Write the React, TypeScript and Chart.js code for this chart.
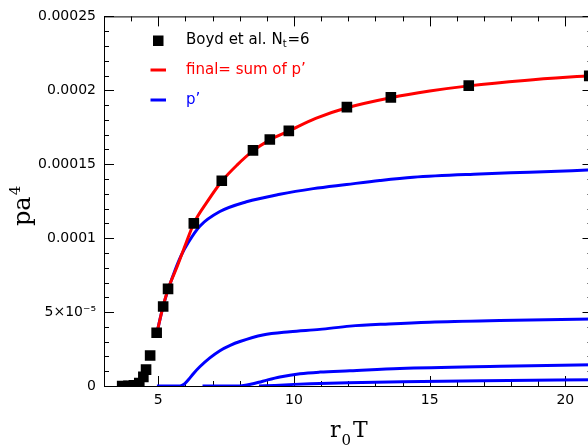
import React, { useEffect, useRef } from 'react';
import { Chart, registerables } from 'chart.js';

Chart.register(...registerables);

// Boyd et al. lattice data (black squares)
const boydX = [3.67, 3.9, 4.1, 4.3, 4.45, 4.55, 4.7, 4.94, 5.18, 5.36, 6.31, 7.34, 8.49, 9.11, 9.81, 11.95, 13.57, 16.44, 20.88];
const boydY = [0, 1e-7, 5e-7, 2e-6, 6.2e-6, 1.11e-5, 2.06e-5, 3.6e-5, 5.38e-5, 6.57e-5, 1.1e-4, 1.388e-4, 1.594e-4, 1.667e-4, 1.726e-4, 1.886e-4, 1.952e-4, 2.032e-4, 2.098e-4];

// final = sum of p' (red)
const finalX = [4.95, 5.18, 5.36, 5.7, 6.0, 6.31, 6.8, 7.34, 7.9, 8.49, 9.11, 9.81, 10.8, 11.95, 13.57, 15.0, 16.44, 18.5, 21.0];
const finalY = [3.6e-5, 5.4e-5, 6.55e-5, 8.1e-5, 9.55e-5, 1.1e-4, 1.245e-4, 1.385e-4, 1.494e-4, 1.59e-4, 1.665e-4, 1.725e-4, 1.81e-4, 1.882e-4, 1.95e-4, 1.995e-4, 2.03e-4, 2.067e-4, 2.1e-4];

// p' contributions (blue)
const pAX = [4.95, 5.18, 5.36, 5.6, 5.85, 6.1, 6.53, 7.27, 8.25, 9.48, 10.71, 11.94, 13.16, 14.39, 16.84, 18.68, 21.0];
const pAY = [3.6e-5, 5.4e-5, 6.5e-5, 7.75e-5, 8.85e-5, 9.69e-5, 1.081e-4, 1.18e-4, 1.246e-4, 1.297e-4, 1.335e-4, 1.363e-4, 1.39e-4, 1.412e-4, 1.434e-4, 1.446e-4, 1.462e-4];

const pBX = [4.95, 5.8, 5.95, 6.1, 6.3, 6.53, 6.9, 7.27, 7.65, 8.01, 8.85, 9.85, 10.95, 12.06, 13.5, 15.0, 17.58, 21.0];
const pBY = [0, 0, 1.2e-6, 4e-6, 8.5e-6, 1.3e-5, 1.9e-5, 2.39e-5, 2.75e-5, 3.01e-5, 3.45e-5, 3.67e-5, 3.83e-5, 4.05e-5, 4.2e-5, 4.32e-5, 4.43e-5, 4.53e-5];

const pCX = [6.63, 7.9, 8.15, 8.4, 8.7, 9.0, 9.48, 10.22, 10.95, 12.06, 13.9, 17.6, 21.0];
const pCY = [0, 0, 4e-7, 1.2e-6, 2.5e-6, 4.0e-6, 6.1e-6, 8.3e-6, 9.4e-6, 1.03e-5, 1.18e-5, 1.33e-5, 1.44e-5];

const pDX = [8.71, 9.3, 10.0, 10.6, 12.0, 14.0, 17.0, 21.0];
const pDY = [0, 4e-7, 1.1e-6, 1.5e-6, 2.2e-6, 2.9e-6, 3.6e-6, 4.3e-6];

// axes
const xMajorTicks = [5, 10, 15, 20];
const xTickLabels = ['5', '10', '15', '20'];
const xMinorTicks = [4, 6, 7, 8, 9, 11, 12, 13, 14, 16, 17, 18, 19];
const yMajorTicks = [0, 5e-5, 1e-4, 1.5e-4, 2e-4, 2.5e-4];
const yTickLabels = ['0', '5\u00d710\u207b\u2075', '0.0001', '0.00015', '0.0002', '0.00025'];
const yMinorTicks = [1, 2, 3, 4, 6, 7, 8, 9, 11, 12, 13, 14, 16, 17, 18, 19, 21, 22, 23, 24].map((k) => k * 1e-5);

const legendLabels = ['Boyd et al. N', 't', '=6', 'final= sum of p\u2019', 'p\u2019'];

export default function App() {
  const ref = useRef<HTMLCanvasElement>(null);

  useEffect(() => {
    const canvas = ref.current!;
    const pts = (xs: number[], ys: number[]) => xs.map((x, i) => ({ x, y: ys[i] }));

    const framePlugin = {
      id: 'frame',
      beforeDatasetsDraw(chart: any) {
        const { ctx, chartArea: a, scales } = chart;
        const sx = scales.x;
        const sy = scales.y;
        ctx.save();
        ctx.strokeStyle = '#000';
        ctx.lineWidth = 1;
        ctx.strokeRect(a.left + 0.5, a.top + 0.5, a.right - a.left, a.bottom - a.top);
        const line = (x1: number, y1: number, x2: number, y2: number) => {
          ctx.beginPath();
          ctx.moveTo(x1, y1);
          ctx.lineTo(x2, y2);
          ctx.stroke();
        };
        const xt = (v: number, len: number) => {
          const px = Math.round(sx.getPixelForValue(v)) + 0.5;
          line(px, a.bottom, px, a.bottom - len);
          line(px, a.top, px, a.top + len);
        };
        const yt = (v: number, len: number) => {
          const py = Math.round(sy.getPixelForValue(v)) + 0.5;
          line(a.left, py, a.left + len, py);
          line(a.right, py, a.right - len, py);
        };
        xMajorTicks.forEach((v) => xt(v, 10));
        xMinorTicks.forEach((v) => xt(v, 5));
        yMajorTicks.forEach((v) => yt(v, 10));
        yMinorTicks.forEach((v) => yt(v, 5));
        ctx.restore();
      },
      afterDraw(chart: any) {
        const { ctx } = chart;
        ctx.save();
        // legend
        ctx.fillStyle = '#000';
        ctx.fillRect(153, 35.5, 10.5, 10.5);
        ctx.font = '15px "DejaVu Sans"';
        ctx.textBaseline = 'alphabetic';
        ctx.textAlign = 'left';
        let x = 186;
        ctx.fillText(legendLabels[0], x, 44);
        x += ctx.measureText(legendLabels[0]).width;
        ctx.font = '10px "DejaVu Sans"';
        ctx.fillText(legendLabels[1], x, 47);
        x += ctx.measureText(legendLabels[1]).width + 1;
        ctx.font = '15px "DejaVu Sans"';
        ctx.fillText(legendLabels[2], x, 44);

        ctx.lineWidth = 3;
        ctx.strokeStyle = '#ff0000';
        ctx.beginPath();
        ctx.moveTo(150.5, 70);
        ctx.lineTo(166, 70);
        ctx.stroke();
        ctx.fillStyle = '#ff0000';
        ctx.fillText(legendLabels[3], 186, 74);

        ctx.strokeStyle = '#0000ff';
        ctx.beginPath();
        ctx.moveTo(150.5, 100);
        ctx.lineTo(166, 100);
        ctx.stroke();
        ctx.fillStyle = '#0000ff';
        ctx.fillText(legendLabels[4], 186, 104);

        // axis titles
        ctx.fillStyle = '#000';
        ctx.font = '22px "DejaVu Serif"';
        ctx.fillText('r', 330, 437);
        ctx.font = '15px "DejaVu Serif"';
        ctx.fillText('0', 341.5, 445);
        ctx.font = '22px "DejaVu Serif"';
        ctx.fillText('T', 353, 437);

        ctx.save();
        ctx.translate(30, 226);
        ctx.rotate(-Math.PI / 2);
        ctx.font = '24px "DejaVu Serif"';
        ctx.fillText('pa', 0, 0);
        const w = ctx.measureText('pa').width;
        ctx.font = '15px "DejaVu Serif"';
        ctx.fillText('4', w + 1, -10);
        ctx.restore();

        ctx.restore();
      },
    };

    const chart = new Chart(canvas, {
      type: 'scatter',
      data: {
        datasets: [
          {
            label: 'Boyd',
            data: pts(boydX, boydY),
            pointStyle: 'rect',
            pointRadius: 7.5,
            backgroundColor: '#000',
            borderWidth: 0,
            showLine: false,
            order: 0,
          },
          {
            label: 'final',
            data: pts(finalX, finalY),
            showLine: true,
            borderColor: '#ff0000',
            borderWidth: 3,
            pointRadius: 0,
            cubicInterpolationMode: 'monotone',
            order: 1,
          },
          ...[
            [pAX, pAY],
            [pBX, pBY],
            [pCX, pCY],
            [pDX, pDY],
          ].map(([xs, ys], i) => ({
            label: 'p' + i,
            data: pts(xs, ys),
            showLine: true,
            borderColor: '#0000ff',
            borderWidth: 3,
            pointRadius: 0,
            cubicInterpolationMode: 'monotone' as const,
            order: 2,
          })),
        ],
      },
      options: {
        animation: false,
        responsive: false,
        layout: { padding: { top: 10, right: 7, left: 0, bottom: 0 } },
        plugins: { legend: { display: false }, tooltip: { enabled: false } },
        scales: {
          x: {
            type: 'linear',
            min: 3,
            max: 21,
            grid: { display: false, drawTicks: false },
            border: { display: false },
            afterBuildTicks: (scale: any) => {
              scale.ticks = xMajorTicks.map((v) => ({ value: v }));
            },
            afterFit: (scale: any) => {
              scale.height = 61;
            },
            ticks: {
              autoSkip: false,
              maxRotation: 0,
              padding: 6,
              color: '#000',
              font: { family: 'DejaVu Sans', size: 14 },
              callback: (_v: any, i: number) => xTickLabels[i],
            },
          },
          y: {
            type: 'linear',
            min: 0,
            max: 2.5e-4,
            grid: { display: false, drawTicks: false },
            border: { display: false },
            afterBuildTicks: (scale: any) => {
              scale.ticks = yMajorTicks.map((v) => ({ value: v }));
            },
            afterFit: (scale: any) => {
              scale.width = 104;
            },
            ticks: {
              autoSkip: false,
              padding: 8,
              color: '#000',
              font: { family: 'DejaVu Sans', size: 14 },
              callback: (_v: any, i: number) => yTickLabels[i],
            },
          },
        },
      },
      plugins: [framePlugin],
    } as any);

    return () => chart.destroy();
  }, []);

  return (
    <div style={{ position: 'absolute', left: 0, top: 0, width: 588, height: 447, overflow: 'hidden', background: '#fff' }}>
      <canvas ref={ref} width={600} height={447} style={{ display: 'block' }} />
    </div>
  );
}
